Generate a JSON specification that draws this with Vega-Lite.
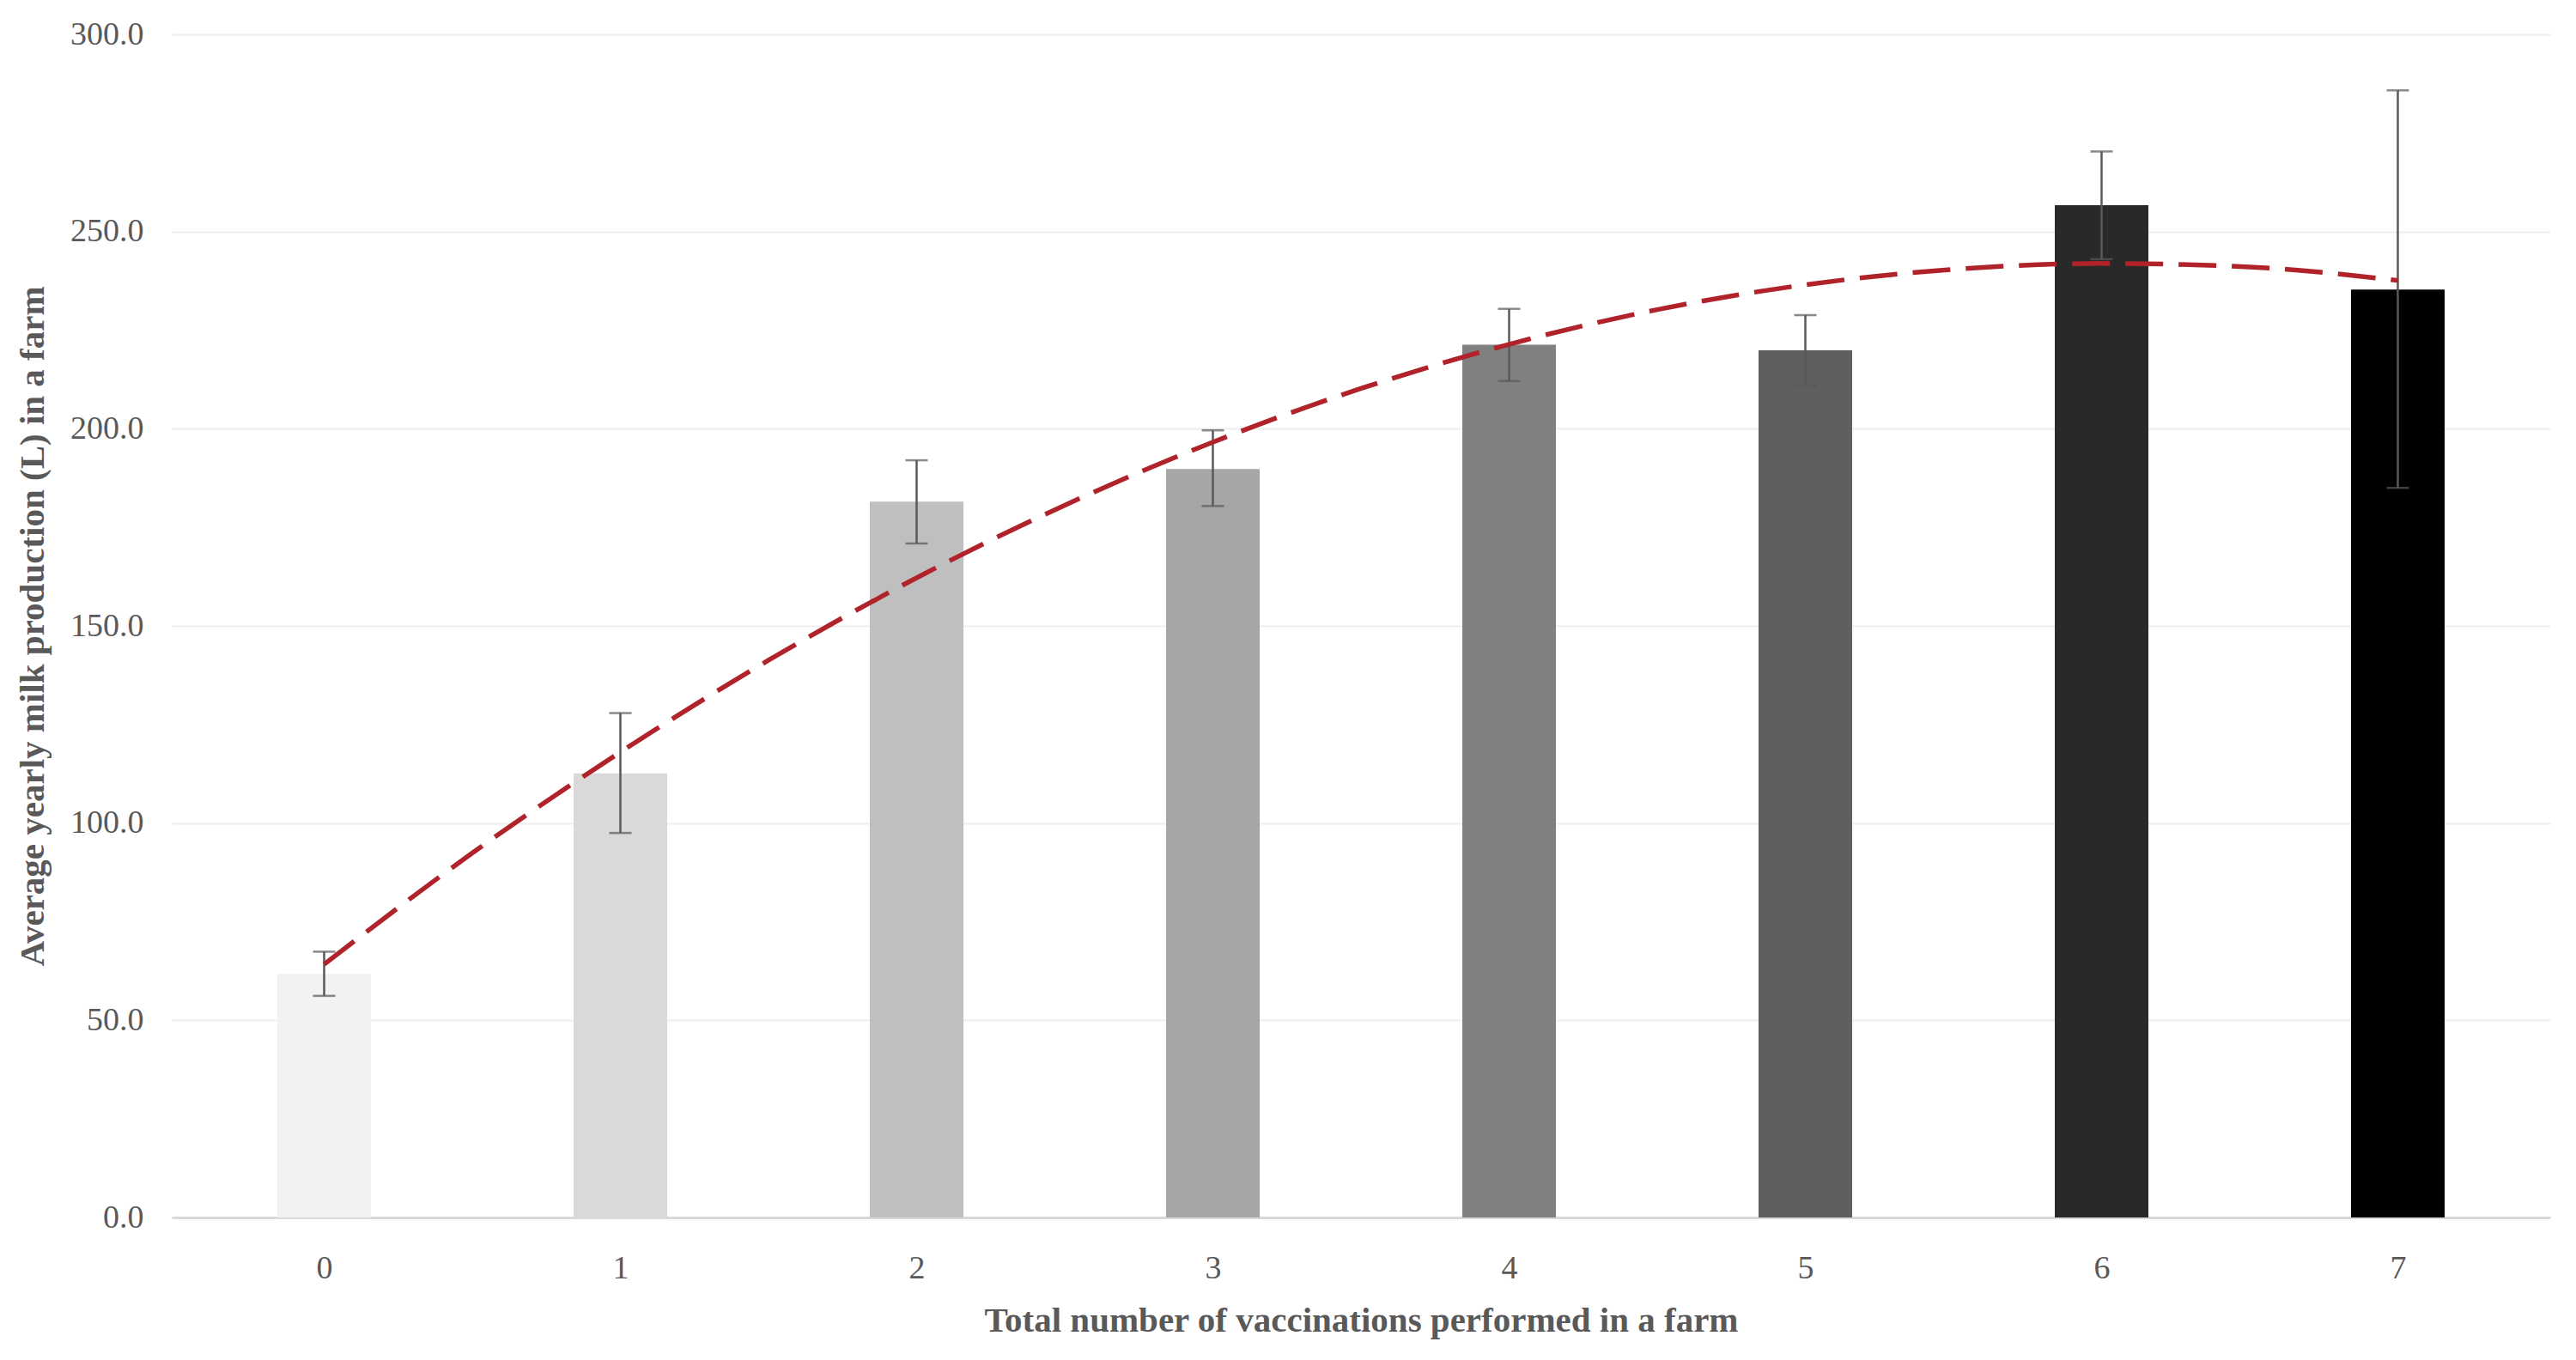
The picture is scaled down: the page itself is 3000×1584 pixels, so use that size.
{
  "$schema": "https://vega.github.io/schema/vega-lite/v6.json",
  "width": 2770,
  "height": 1378,
  "autosize": {"type": "none"},
  "padding": {"left": 200, "top": 40, "right": 30, "bottom": 166},
  "background": "white",
  "config": {"view": {"stroke": null}, "font": "Liberation Serif"},
  "datasets": {
    "bars": [
      {"vaccinations": 0, "mean": 61.8, "lo": 56.2, "hi": 67.4},
      {"vaccinations": 1, "mean": 112.6, "lo": 97.5, "hi": 127.9},
      {"vaccinations": 2, "mean": 181.5, "lo": 170.9, "hi": 192.0},
      {"vaccinations": 3, "mean": 189.8, "lo": 180.4, "hi": 199.6},
      {"vaccinations": 4, "mean": 221.3, "lo": 212.1, "hi": 230.4},
      {"vaccinations": 5, "mean": 219.9, "lo": 210.8, "hi": 228.8},
      {"vaccinations": 6, "mean": 256.7, "lo": 243.0, "hi": 270.3},
      {"vaccinations": 7, "mean": 235.3, "lo": 185.0, "hi": 285.8}
    ],
    "trend": [
      {"vaccinations": 0, "fit": 64.2},
      {"vaccinations": 0.5, "fit": 92.4},
      {"vaccinations": 1, "fit": 118.0},
      {"vaccinations": 1.5, "fit": 141.3},
      {"vaccinations": 2, "fit": 162.2},
      {"vaccinations": 2.5, "fit": 180.6},
      {"vaccinations": 3, "fit": 196.6},
      {"vaccinations": 3.5, "fit": 210.2},
      {"vaccinations": 4, "fit": 221.4},
      {"vaccinations": 4.5, "fit": 230.2},
      {"vaccinations": 5, "fit": 236.5},
      {"vaccinations": 5.5, "fit": 240.4},
      {"vaccinations": 6, "fit": 241.9},
      {"vaccinations": 6.5, "fit": 241.0},
      {"vaccinations": 7, "fit": 237.6}
    ]
  },
  "layer": [
    {
      "data": {"name": "bars"},
      "mark": {"type": "bar", "width": 109},
      "encoding": {
        "x": {
          "field": "vaccinations",
          "type": "quantitative",
          "title": "Total number of vaccinations performed in a farm",
          "scale": {"domain": [-0.5, 7.5], "nice": false, "zero": false},
          "axis": {
            "values": [0, 1, 2, 3, 4, 5, 6, 7],
            "format": "d",
            "grid": false,
            "ticks": false,
            "domain": true,
            "domainColor": "#d9d9d9",
            "domainWidth": 3,
            "labelFont": "Liberation Serif",
            "labelFontSize": 38,
            "labelColor": "#595959",
            "labelPadding": 40,
            "titleFont": "Liberation Serif",
            "titleFontSize": 41,
            "titleFontWeight": "bold",
            "titleColor": "#595959",
            "titleY": 120,
            "titleBaseline": "middle"
          }
        },
        "y": {
          "field": "mean",
          "type": "quantitative",
          "title": "Average yearly milk production (L) in a farm",
          "scale": {"domain": [0, 300], "nice": false},
          "axis": {
            "values": [0, 50, 100, 150, 200, 250, 300],
            "format": ".1f",
            "grid": true,
            "gridColor": "#eeeeee",
            "gridWidth": 2,
            "domain": false,
            "ticks": false,
            "labelFont": "Liberation Serif",
            "labelFontSize": 38,
            "labelColor": "#595959",
            "labelPadding": 33,
            "titleFont": "Liberation Serif",
            "titleFontSize": 41,
            "titleFontWeight": "bold",
            "titleColor": "#595959",
            "titleAngle": -90,
            "titleX": -162,
            "titleY": 689,
            "titleAlign": "center",
            "titleBaseline": "middle"
          }
        },
        "color": {
          "field": "vaccinations",
          "type": "nominal",
          "scale": {
            "domain": [0, 1, 2, 3, 4, 5, 6, 7],
            "range": ["#f2f2f2", "#d9d9d9", "#bfbfbf", "#a6a6a6", "#808080", "#5f5f5f", "#292929", "#000000"]
          },
          "legend": null
        }
      }
    },
    {
      "data": {"name": "bars"},
      "mark": {"type": "rule", "color": "#595959", "strokeWidth": 2.5},
      "encoding": {
        "x": {"field": "vaccinations", "type": "quantitative", "title": "Total number of vaccinations performed in a farm"},
        "y": {"field": "lo", "type": "quantitative", "title": "Average yearly milk production (L) in a farm"},
        "y2": {"field": "hi"}
      }
    },
    {
      "data": {"name": "bars"},
      "mark": {"type": "tick", "orient": "horizontal", "color": "#595959", "size": 26, "thickness": 2.5},
      "encoding": {
        "x": {"field": "vaccinations", "type": "quantitative", "title": "Total number of vaccinations performed in a farm"},
        "y": {"field": "lo", "type": "quantitative", "title": "Average yearly milk production (L) in a farm"}
      }
    },
    {
      "data": {"name": "bars"},
      "mark": {"type": "tick", "orient": "horizontal", "color": "#595959", "size": 26, "thickness": 2.5},
      "encoding": {
        "x": {"field": "vaccinations", "type": "quantitative", "title": "Total number of vaccinations performed in a farm"},
        "y": {"field": "hi", "type": "quantitative", "title": "Average yearly milk production (L) in a farm"}
      }
    },
    {
      "data": {"name": "trend"},
      "mark": {"type": "line", "color": "#b0232a", "strokeWidth": 5.5, "strokeDash": [44, 18], "interpolate": "monotone"},
      "encoding": {
        "x": {"field": "vaccinations", "type": "quantitative", "title": "Total number of vaccinations performed in a farm"},
        "y": {"field": "fit", "type": "quantitative", "title": "Average yearly milk production (L) in a farm"}
      }
    }
  ]
}
